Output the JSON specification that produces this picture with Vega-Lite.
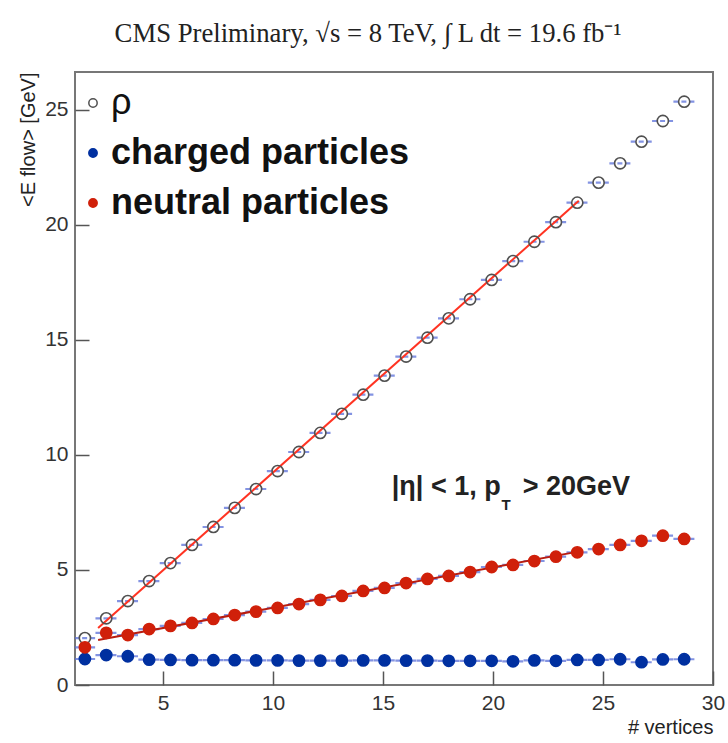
{
  "$schema": "https://vega.github.io/schema/vega-lite/v6.json",
  "width": 638,
  "height": 613,
  "autosize": {"type": "none"},
  "padding": {"left": 75, "top": 72, "right": 15, "bottom": 58},
  "background": "white",
  "title": {"text": "CMS Preliminary, √s = 8 TeV, ∫ L dt = 19.6 fb⁻¹", "font": "Liberation Serif", "fontSize": 26.7, "fontWeight": "normal", "color": "#222", "anchor": "middle", "dx": -26, "offset": 24},
  "config": {
    "view": {"stroke": "#777", "strokeWidth": 2},
    "axis": {"labelOverlap": false, "labelFlush": false, "labelBound": false},
    "axisX": {
      "domain": false, "grid": false, "ticks": true,
      "tickSize": {"condition": {"test": "datum.value % 5 === 0", "value": -14}, "value": -7},
      "tickColor": "#555", "tickWidth": 1.5,
      "labelPadding": 21, "labelFontSize": 21, "labelFont": "Liberation Sans", "labelColor": "#333",
      "titleAnchor": "end", "titleFontSize": 20, "titleFont": "Liberation Sans", "titleFontWeight": "normal", "titleColor": "#222", "titlePadding": 4
    },
    "axisY": {
      "domain": false, "grid": false, "ticks": true,
      "tickSize": {"condition": {"test": "datum.value % 5 === 0", "value": -14}, "value": -7},
      "tickColor": "#555", "tickWidth": 1.5,
      "labelPadding": 21, "labelFontSize": 21, "labelFont": "Liberation Sans", "labelColor": "#333",
      "titleAnchor": "end", "titleFontSize": 20, "titleFont": "Liberation Sans", "titleFontWeight": "normal", "titleColor": "#222", "titlePadding": 6
    }
  },
  "datasets": {
    "pts": [
      {"s": "ρ", "x": 1.45, "lo": 0.96, "hi": 1.94, "y": 2.04},
      {"s": "ρ", "x": 2.42, "lo": 1.93, "hi": 2.91, "y": 2.90},
      {"s": "ρ", "x": 3.40, "lo": 2.91, "hi": 3.89, "y": 3.65},
      {"s": "ρ", "x": 4.37, "lo": 3.88, "hi": 4.86, "y": 4.52},
      {"s": "ρ", "x": 5.34, "lo": 4.85, "hi": 5.83, "y": 5.30},
      {"s": "ρ", "x": 6.32, "lo": 5.83, "hi": 6.81, "y": 6.09},
      {"s": "ρ", "x": 7.29, "lo": 6.80, "hi": 7.78, "y": 6.87},
      {"s": "ρ", "x": 8.26, "lo": 7.77, "hi": 8.75, "y": 7.70},
      {"s": "ρ", "x": 9.23, "lo": 8.74, "hi": 9.72, "y": 8.52},
      {"s": "ρ", "x": 10.21, "lo": 9.72, "hi": 10.70, "y": 9.30},
      {"s": "ρ", "x": 11.18, "lo": 10.69, "hi": 11.67, "y": 10.13},
      {"s": "ρ", "x": 12.15, "lo": 11.66, "hi": 12.64, "y": 10.96},
      {"s": "ρ", "x": 13.13, "lo": 12.64, "hi": 13.62, "y": 11.79},
      {"s": "ρ", "x": 14.10, "lo": 13.61, "hi": 14.59, "y": 12.62},
      {"s": "ρ", "x": 15.07, "lo": 14.58, "hi": 15.56, "y": 13.45},
      {"s": "ρ", "x": 16.05, "lo": 15.56, "hi": 16.54, "y": 14.28},
      {"s": "ρ", "x": 17.02, "lo": 16.53, "hi": 17.51, "y": 15.10},
      {"s": "ρ", "x": 17.99, "lo": 17.50, "hi": 18.48, "y": 15.94},
      {"s": "ρ", "x": 18.96, "lo": 18.47, "hi": 19.45, "y": 16.77},
      {"s": "ρ", "x": 19.94, "lo": 19.45, "hi": 20.43, "y": 17.61},
      {"s": "ρ", "x": 20.91, "lo": 20.42, "hi": 21.40, "y": 18.43},
      {"s": "ρ", "x": 21.88, "lo": 21.39, "hi": 22.37, "y": 19.27},
      {"s": "ρ", "x": 22.86, "lo": 22.37, "hi": 23.35, "y": 20.12},
      {"s": "ρ", "x": 23.83, "lo": 23.34, "hi": 24.32, "y": 20.97},
      {"s": "ρ", "x": 24.80, "lo": 24.31, "hi": 25.29, "y": 21.84},
      {"s": "ρ", "x": 25.78, "lo": 25.29, "hi": 26.27, "y": 22.68},
      {"s": "ρ", "x": 26.75, "lo": 26.26, "hi": 27.24, "y": 23.62},
      {"s": "ρ", "x": 27.72, "lo": 27.23, "hi": 28.21, "y": 24.52},
      {"s": "ρ", "x": 28.69, "lo": 28.20, "hi": 29.18, "y": 25.36},
      {"s": "charged particles", "x": 1.45, "lo": 0.96, "hi": 1.94, "y": 1.13},
      {"s": "charged particles", "x": 2.42, "lo": 1.93, "hi": 2.91, "y": 1.30},
      {"s": "charged particles", "x": 3.40, "lo": 2.91, "hi": 3.89, "y": 1.25},
      {"s": "charged particles", "x": 4.37, "lo": 3.88, "hi": 4.86, "y": 1.10},
      {"s": "charged particles", "x": 5.34, "lo": 4.85, "hi": 5.83, "y": 1.09},
      {"s": "charged particles", "x": 6.32, "lo": 5.83, "hi": 6.81, "y": 1.08},
      {"s": "charged particles", "x": 7.29, "lo": 6.80, "hi": 7.78, "y": 1.08},
      {"s": "charged particles", "x": 8.26, "lo": 7.77, "hi": 8.75, "y": 1.08},
      {"s": "charged particles", "x": 9.23, "lo": 8.74, "hi": 9.72, "y": 1.07},
      {"s": "charged particles", "x": 10.21, "lo": 9.72, "hi": 10.70, "y": 1.07},
      {"s": "charged particles", "x": 11.18, "lo": 10.69, "hi": 11.67, "y": 1.06},
      {"s": "charged particles", "x": 12.15, "lo": 11.66, "hi": 12.64, "y": 1.06},
      {"s": "charged particles", "x": 13.13, "lo": 12.64, "hi": 13.62, "y": 1.06},
      {"s": "charged particles", "x": 14.10, "lo": 13.61, "hi": 14.59, "y": 1.07},
      {"s": "charged particles", "x": 15.07, "lo": 14.58, "hi": 15.56, "y": 1.07},
      {"s": "charged particles", "x": 16.05, "lo": 15.56, "hi": 16.54, "y": 1.06},
      {"s": "charged particles", "x": 17.02, "lo": 16.53, "hi": 17.51, "y": 1.06},
      {"s": "charged particles", "x": 17.99, "lo": 17.50, "hi": 18.48, "y": 1.05},
      {"s": "charged particles", "x": 18.96, "lo": 18.47, "hi": 19.45, "y": 1.05},
      {"s": "charged particles", "x": 19.94, "lo": 19.45, "hi": 20.43, "y": 1.05},
      {"s": "charged particles", "x": 20.91, "lo": 20.42, "hi": 21.40, "y": 1.03},
      {"s": "charged particles", "x": 21.88, "lo": 21.39, "hi": 22.37, "y": 1.07},
      {"s": "charged particles", "x": 22.86, "lo": 22.37, "hi": 23.35, "y": 1.05},
      {"s": "charged particles", "x": 23.83, "lo": 23.34, "hi": 24.32, "y": 1.09},
      {"s": "charged particles", "x": 24.80, "lo": 24.31, "hi": 25.29, "y": 1.09},
      {"s": "charged particles", "x": 25.78, "lo": 25.29, "hi": 26.27, "y": 1.12},
      {"s": "charged particles", "x": 26.75, "lo": 26.26, "hi": 27.24, "y": 0.99},
      {"s": "charged particles", "x": 27.72, "lo": 27.23, "hi": 28.21, "y": 1.11},
      {"s": "charged particles", "x": 28.69, "lo": 28.20, "hi": 29.18, "y": 1.12},
      {"s": "neutral particles", "x": 1.45, "lo": 0.96, "hi": 1.94, "y": 1.64},
      {"s": "neutral particles", "x": 2.42, "lo": 1.93, "hi": 2.91, "y": 2.27},
      {"s": "neutral particles", "x": 3.40, "lo": 2.91, "hi": 3.89, "y": 2.17},
      {"s": "neutral particles", "x": 4.37, "lo": 3.88, "hi": 4.86, "y": 2.43},
      {"s": "neutral particles", "x": 5.34, "lo": 4.85, "hi": 5.83, "y": 2.57},
      {"s": "neutral particles", "x": 6.32, "lo": 5.83, "hi": 6.81, "y": 2.70},
      {"s": "neutral particles", "x": 7.29, "lo": 6.80, "hi": 7.78, "y": 2.87},
      {"s": "neutral particles", "x": 8.26, "lo": 7.77, "hi": 8.75, "y": 3.04},
      {"s": "neutral particles", "x": 9.23, "lo": 8.74, "hi": 9.72, "y": 3.19},
      {"s": "neutral particles", "x": 10.21, "lo": 9.72, "hi": 10.70, "y": 3.35},
      {"s": "neutral particles", "x": 11.18, "lo": 10.69, "hi": 11.67, "y": 3.52},
      {"s": "neutral particles", "x": 12.15, "lo": 11.66, "hi": 12.64, "y": 3.70},
      {"s": "neutral particles", "x": 13.13, "lo": 12.64, "hi": 13.62, "y": 3.87},
      {"s": "neutral particles", "x": 14.10, "lo": 13.61, "hi": 14.59, "y": 4.09},
      {"s": "neutral particles", "x": 15.07, "lo": 14.58, "hi": 15.56, "y": 4.22},
      {"s": "neutral particles", "x": 16.05, "lo": 15.56, "hi": 16.54, "y": 4.43},
      {"s": "neutral particles", "x": 17.02, "lo": 16.53, "hi": 17.51, "y": 4.61},
      {"s": "neutral particles", "x": 17.99, "lo": 17.50, "hi": 18.48, "y": 4.74},
      {"s": "neutral particles", "x": 18.96, "lo": 18.47, "hi": 19.45, "y": 4.91},
      {"s": "neutral particles", "x": 19.94, "lo": 19.45, "hi": 20.43, "y": 5.13},
      {"s": "neutral particles", "x": 20.91, "lo": 20.42, "hi": 21.40, "y": 5.22},
      {"s": "neutral particles", "x": 21.88, "lo": 21.39, "hi": 22.37, "y": 5.39},
      {"s": "neutral particles", "x": 22.86, "lo": 22.37, "hi": 23.35, "y": 5.58},
      {"s": "neutral particles", "x": 23.83, "lo": 23.34, "hi": 24.32, "y": 5.77},
      {"s": "neutral particles", "x": 24.80, "lo": 24.31, "hi": 25.29, "y": 5.91},
      {"s": "neutral particles", "x": 25.78, "lo": 25.29, "hi": 26.27, "y": 6.09},
      {"s": "neutral particles", "x": 26.75, "lo": 26.26, "hi": 27.24, "y": 6.27},
      {"s": "neutral particles", "x": 27.72, "lo": 27.23, "hi": 28.21, "y": 6.49},
      {"s": "neutral particles", "x": 28.69, "lo": 28.20, "hi": 29.18, "y": 6.35}
    ],
    "fits": [
      {"fit": "rho", "x": 2.05, "y": 2.48},
      {"fit": "rho", "x": 23.9, "y": 21.05},
      {"fit": "neutral", "x": 2.05, "y": 1.96},
      {"fit": "neutral", "x": 24.0, "y": 5.82}
    ]
  },
  "layer": [
    {
      "data": {"name": "pts"},
      "mark": {"type": "rule", "clip": true, "color": "#5a6fd8", "strokeWidth": 2.2, "strokeDash": [5, 3], "opacity": 0.75},
      "encoding": {
        "x": {"field": "lo", "type": "quantitative", "title": "# vertices",
          "scale": {"domain": [1, 30], "nice": false, "zero": false},
          "axis": {"values": [5, 10, 15, 20, 25, 30]}},
        "x2": {"field": "hi"},
        "y": {"field": "y", "type": "quantitative", "title": "<E flow> [GeV]",
          "scale": {"domain": [0, 26.65], "nice": false, "zero": false},
          "axis": {"values": [0, 5, 10, 15, 20, 25]}}
      }
    },
    {
      "data": {"name": "fits"},
      "mark": {"type": "line", "strokeWidth": 2},
      "encoding": {
        "x": {"field": "x", "type": "quantitative", "title": "# vertices"},
        "y": {"field": "y", "type": "quantitative", "title": "<E flow> [GeV]"},
        "color": {"field": "fit", "type": "nominal", "legend": null,
          "scale": {"domain": ["rho", "neutral"], "range": ["#ff3322", "#b81c10"]}}
      }
    },
    {
      "data": {"name": "pts"},
      "mark": {"type": "point", "shape": "circle", "filled": true, "size": 125, "strokeWidth": 1.6, "opacity": 1},
      "encoding": {
        "x": {"field": "x", "type": "quantitative", "title": "# vertices"},
        "y": {"field": "y", "type": "quantitative", "title": "<E flow> [GeV]"},
        "fill": {"field": "s", "type": "nominal",
          "scale": {"domain": ["ρ", "charged particles", "neutral particles"], "range": ["transparent", "#0030a0", "#d0200a"]},
          "legend": {
            "orient": "none", "legendX": 0, "legendY": 13, "title": null,
            "labelFontSize": 36, "labelFont": "Liberation Sans", "labelColor": "#111", "labelLimit": 600,
            "labelFontWeight": {"expr": "datum.label === 'ρ' ? 'normal' : 'bold'"},
            "symbolSize": 70, "symbolStrokeWidth": 1.5, "rowPadding": 14, "labelOffset": 0
          }
        },
        "stroke": {"field": "s", "type": "nominal", "legend": null,
          "scale": {"domain": ["ρ", "charged particles", "neutral particles"], "range": ["#505050", "#0030a0", "#d0200a"]}}
      }
    },
    {
      "data": {"values": [{}]},
      "mark": {"type": "text", "text": "|η| < 1, p", "font": "Liberation Sans", "fontWeight": "bold", "fontSize": 27, "color": "#222", "align": "left", "baseline": "alphabetic"},
      "encoding": {"x": {"datum": 15.4}, "y": {"datum": 8.26}}
    },
    {
      "data": {"values": [{}]},
      "mark": {"type": "text", "text": "T", "font": "Liberation Sans", "fontWeight": "bold", "fontSize": 15, "color": "#222", "align": "center", "baseline": "alphabetic"},
      "encoding": {"x": {"datum": 20.6}, "y": {"datum": 7.6}}
    },
    {
      "data": {"values": [{}]},
      "mark": {"type": "text", "text": "> 20GeV", "font": "Liberation Sans", "fontWeight": "bold", "fontSize": 27, "color": "#222", "align": "left", "baseline": "alphabetic"},
      "encoding": {"x": {"datum": 21.35}, "y": {"datum": 8.26}}
    }
  ]
}
